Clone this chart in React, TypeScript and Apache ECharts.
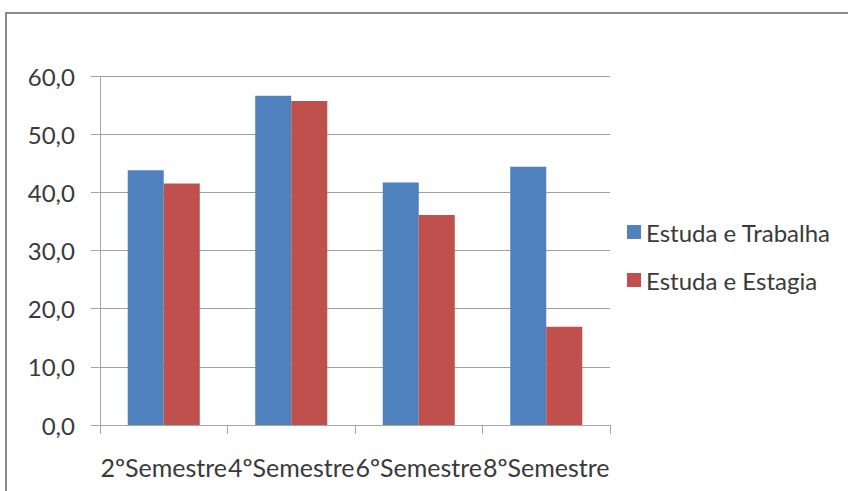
import React, { useEffect, useRef } from "react";
import * as echarts from "echarts";

const categories = ["2ºSemestre", "4ºSemestre", "6ºSemestre", "8ºSemestre"];
const seriesNames = ["Estuda e Trabalha", "Estuda e Estagia"];
const trabalha = [43.8, 56.6, 41.7, 44.4];
const estagia = [41.5, 55.7, 36.1, 16.9];
const yTicks = { min: 0, max: 60, interval: 10 };

const FONT = "Lato";
const TEXT = "#3a3a3a";

export default function App() {
  const ref = useRef<HTMLDivElement>(null);
  useEffect(() => {
    if (!ref.current) return;
    const chart = echarts.init(ref.current, undefined, { renderer: "svg" });
    chart.setOption({
      animation: false,
      backgroundColor: "#ffffff",
      textStyle: { fontFamily: FONT },
      graphic: [
        {
          type: "rect",
          shape: { x: 6, y: 13, width: 900, height: 600 },
          style: { fill: "none", stroke: "#8a8a8a", lineWidth: 2 },
          silent: true,
        },
      ],
      grid: { left: 100, right: 238, top: 76, bottom: 66 },
      legend: {
        orient: "vertical",
        left: 622,
        top: 215,
        itemWidth: 14,
        itemHeight: 14,
        itemGap: 24,
        icon: "rect",
        textStyle: { fontFamily: FONT, fontSize: 24, color: TEXT, padding: [0, 0, 0, 0] },
        data: seriesNames,
      },
      xAxis: {
        type: "category",
        data: categories,
        boundaryGap: true,
        axisLine: { lineStyle: { color: "#a6a6a6", width: 1 } },
        axisTick: { show: true, length: 9, lineStyle: { color: "#a6a6a6" } },
        axisLabel: {
          interval: 0,
          margin: 29,
          fontFamily: FONT,
          fontSize: 25,
          color: TEXT,
        },
      },
      yAxis: {
        type: "value",
        min: yTicks.min,
        max: yTicks.max,
        interval: yTicks.interval,
        axisLine: { show: true, lineStyle: { color: "#a6a6a6", width: 1 } },
        axisTick: { show: true, length: 9, lineStyle: { color: "#a6a6a6" } },
        splitLine: { lineStyle: { color: "#a0a0a0", width: 1 } },
        axisLabel: {
          margin: 25,
          fontFamily: FONT,
          fontSize: 24,
          color: TEXT,
          formatter: (v: number) => v.toFixed(1).replace(".", ","),
        },
      },
      series: [
        {
          name: seriesNames[0],
          type: "bar",
          data: trabalha,
          barGap: "0%",
          barCategoryGap: "43.5%",
          itemStyle: { color: "#4F81BD" },
        },
        {
          name: seriesNames[1],
          type: "bar",
          data: estagia,
          barGap: "0%",
          barCategoryGap: "43.5%",
          itemStyle: { color: "#C0504D" },
        },
      ],
    });
    return () => chart.dispose();
  }, []);
  return <div ref={ref} style={{ width: 848, height: 491, position: "absolute", left: 0, top: 0 }} />;
}
